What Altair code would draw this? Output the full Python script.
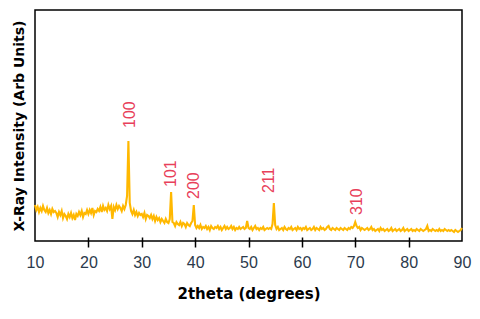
import altair as alt
import pandas as pd

# XRD pattern: intensity (arb. units) sampled every 0.25 degrees from 10 to 90
two_theta_start = 10.0
two_theta_step = 0.25
intensity = [
    36, 31, 34, 29, 33, 30, 35, 31,   # 10-11.75
    29, 33, 28, 31, 27, 32, 29, 30,   # 12
    28, 24, 29, 26, 30, 23, 27, 25,   # 14
    22, 27, 24, 28, 23, 26, 21, 27,   # 16
    25, 29, 26, 30, 24, 28, 27, 31,   # 18
    27, 31, 28, 33, 26, 30, 29, 32,   # 20
    30, 34, 29, 35, 31, 33, 30, 36,   # 22
    32, 35, 22, 34, 31, 36, 32, 35,   # 24
    33, 30, 35, 32, 36, 45, 100, 38,  # 26
    30, 27, 31, 26, 29, 25, 28, 26,   # 28
    27, 24, 28, 22, 26, 25, 23, 26,   # 30
    22, 25, 20, 24, 21, 23, 19, 22,   # 32
    20, 18, 22, 19, 18, 22, 49, 19,   # 34
    18, 15, 19, 17, 16, 19, 15, 18,   # 36
    17, 14, 18, 16, 15, 18, 20, 36,   # 38
    16, 13, 15, 13, 16, 12, 14, 13,   # 40
    15, 12, 14, 11, 15, 13, 12, 14,   # 42
    13, 15, 12, 14, 11, 13, 15, 12,   # 44
    14, 12, 13, 15, 12, 14, 11, 13,   # 46
    12, 14, 12, 13, 14, 12, 13, 20,   # 48
    13, 12, 14, 11, 13, 15, 12, 13,   # 50
    11, 13, 12, 14, 11, 12, 13, 12,   # 52
    13, 12, 17, 38, 16, 12, 14, 11,   # 54
    12, 13, 11, 14, 12, 11, 13, 12,   # 56
    14, 11, 12, 13, 11, 14, 12, 13,   # 58
    11, 13, 12, 14, 11, 12, 13, 11,   # 60
    12, 14, 11, 13, 12, 11, 14, 12,   # 62
    13, 11, 12, 14, 15, 12, 11, 13,   # 64
    12, 11, 13, 12, 11, 13, 12, 11,   # 66
    13, 12, 11, 13, 12, 14, 13, 15,   # 68
    19, 15, 13, 14, 11, 13, 12, 11,   # 70
    12, 13, 11, 12, 14, 11, 12, 10,   # 72
    11, 12, 10, 13, 11, 12, 10, 11,   # 74
    12, 10, 11, 13, 10, 11, 12, 10,   # 76
    11, 12, 10, 11, 13, 10, 11, 12,   # 78
    10, 11, 12, 10, 11, 10, 12, 11,   # 80
    10, 12, 11, 10, 11, 12, 15, 10,   # 82
    11, 10, 12, 11, 10, 11, 10, 12,   # 84
    10, 11, 10, 12, 11, 10, 11, 10,   # 86
    11, 10, 9, 11, 10, 9, 10, 11,     # 88
    13,                               # 90
]
two_theta = [two_theta_start + i * two_theta_step for i in range(len(intensity))]

# Peak annotations (Miller indices)
peak_labels = ["100", "101", "200", "211", "310"]
peak_label_x = [27.8, 35.5, 39.8, 53.8, 70.3]
peak_label_y = [113, 54, 42, 48, 26]

x_ticks = [10, 20, 30, 40, 50, 60, 70, 80, 90]

df = pd.DataFrame({"two_theta": two_theta, "intensity": intensity})
lab = pd.DataFrame({"x": peak_label_x, "y": peak_label_y, "label": peak_labels})

xscale = alt.Scale(domain=[10, 90], nice=False, zero=False)
yscale = alt.Scale(domain=[0, 231], nice=False, zero=False)

line = alt.Chart(df).mark_line(color="#FFB800", strokeWidth=2.1).encode(
    x=alt.X("two_theta:Q", scale=xscale,
            axis=alt.Axis(title="2theta (degrees)", values=x_ticks, grid=False,
                          domain=False, tickSize=10, offset=-4, labelFlush=False,
                          tickColor={"condition": {"test": "datum.value == 10 || datum.value == 90",
                                                   "value": "transparent"},
                                     "value": "black"},
                          tickWidth=1.5,
                          labelFont="Liberation Sans", labelFontSize=16,
                          labelColor="#2b3a4c", labelPadding=7,
                          titleFont="DejaVu Sans", titleFontSize=15,
                          titleFontWeight="bold", titleColor="black",
                          titlePadding=16)),
    y=alt.Y("intensity:Q", scale=yscale,
            axis=alt.Axis(title="X-Ray Intensity (Arb Units)", labels=False,
                          ticks=False, domain=False, grid=False,
                          titleFont="DejaVu Sans", titleFontSize=14,
                          titleFontWeight="bold", titleColor="black",
                          titlePadding=9)),
)

text = alt.Chart(lab).mark_text(angle=270, align="left", baseline="middle",
                                fontSize=16, font="Liberation Sans",
                                color="#E8405A").encode(
    x=alt.X("x:Q", scale=xscale),
    y=alt.Y("y:Q", scale=yscale),
    text="label:N",
)

chart = (line + text).properties(
    width=427, height=231,
    background="white",
    autosize=alt.AutoSizeParams(type="none"),
    padding={"left": 27, "top": 2, "right": 10, "bottom": 70},
).configure_view(stroke="black", strokeWidth=1.5)

chart.save("out.html", embed_options={"renderer": "svg", "actions": False})
